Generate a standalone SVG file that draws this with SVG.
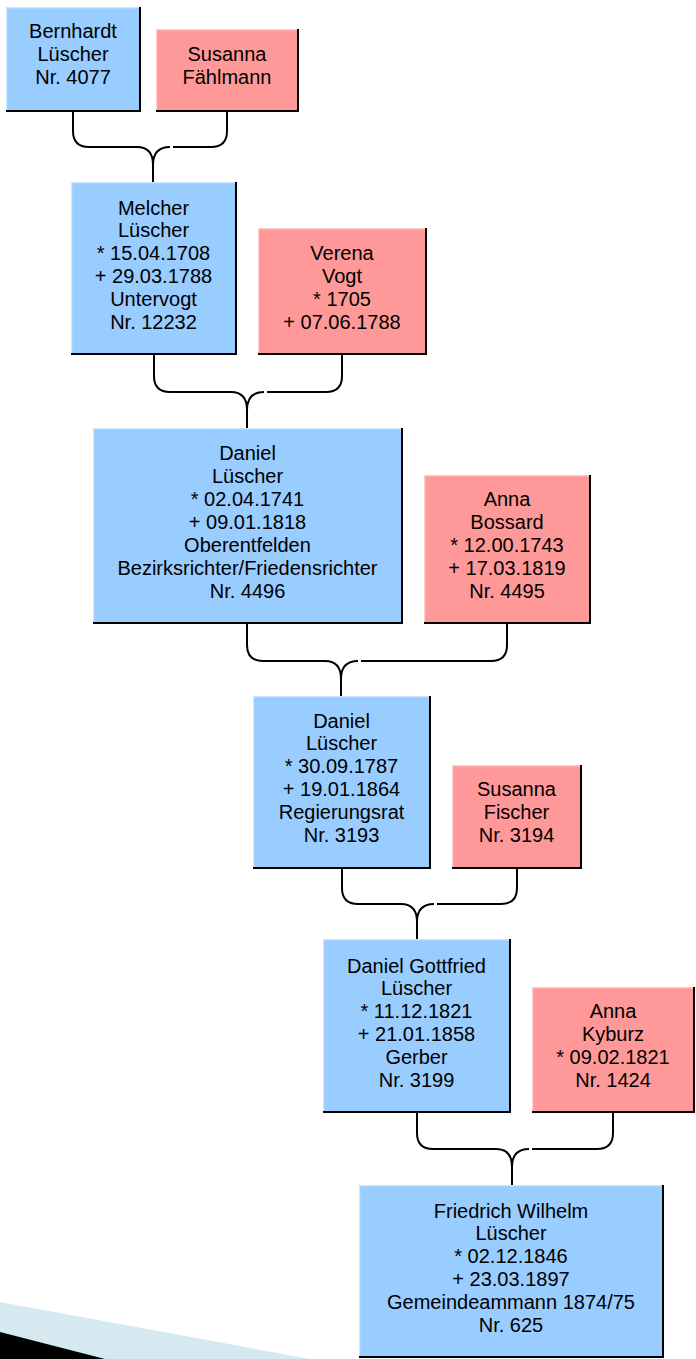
<svg xmlns="http://www.w3.org/2000/svg" width="696" height="1359" viewBox="0 0 696 1359">
<style>
.m{fill:#99ccff}
.f{fill:#ff9999}
.hm{fill:none;stroke:#cfe6ff;stroke-width:1.2}
.hf{fill:none;stroke:#ffcccc;stroke-width:1.2}
.sh{fill:none;stroke:#000;stroke-width:2}
text{font-family:"Liberation Sans",Arial,sans-serif;font-size:20px;fill:#000;text-anchor:middle}
.c{fill:none;stroke:#000;stroke-width:2}
</style>
<rect width="696" height="1359" fill="#fff"/>
<polygon points="0,1302 310,1359 0,1359" fill="#d6e9f1"/>
<polygon points="0,1332 105,1359 0,1359" fill="#000"/>
<g id="connectors">
<path class="c" d="M73,111 V131 Q73,147 89,147 H137 Q153,147 153,165 V182"/>
<path class="c" d="M227,111 V131 Q227,147 211,147 H173 M170,147 Q153,147 153,165"/>
<path class="c" d="M154,354 V376 Q154,392 170,392 H231 Q247,392 247,410 V428"/>
<path class="c" d="M342,354 V376 Q342,392 326,392 H267 M264,392 Q247,392 247,410"/>
<path class="c" d="M247,623 V645 Q247,661 263,661 H325 Q341,661 341,679 V696"/>
<path class="c" d="M507,623 V645 Q507,661 491,661 H361 M358,661 Q341,661 341,679"/>
<path class="c" d="M342,868 V888 Q342,904 358,904 H401 Q417,904 417,922 V939"/>
<path class="c" d="M517,868 V888 Q517,904 501,904 H437 M434,904 Q417,904 417,922"/>
<path class="c" d="M417,1112 V1133 Q417,1149 433,1149 H496 Q512,1149 512,1167 V1185"/>
<path class="c" d="M613,1112 V1133 Q613,1149 597,1149 H532 M529,1149 Q512,1149 512,1167"/>
</g>
<g id="n1">
<rect class="m" x="6" y="7" width="134" height="104"/>
<path class="hm" d="M6.6,111 V7.6 H140"/>
<path class="sh" d="M140,7 V111 H6"/>
<text x="73" y="38.2">Bernhardt<tspan x="73" dy="22.9">Lüscher</tspan><tspan x="73" dy="22.9">Nr. 4077</tspan></text>
</g>
<g id="n2">
<rect class="f" x="156" y="29" width="142" height="82"/>
<path class="hf" d="M156.6,111 V29.6 H298"/>
<path class="sh" d="M298,29 V111 H156"/>
<text x="227" y="61.1">Susanna<tspan x="227" dy="22.9">Fählmann</tspan></text>
</g>
<g id="n3">
<rect class="m" x="71" y="182" width="165" height="172"/>
<path class="hm" d="M71.6,354 V182.6 H236"/>
<path class="sh" d="M236,182 V354 H71"/>
<text x="153.5" y="214.5">Melcher<tspan x="153.5" dy="22.9">Lüscher</tspan><tspan x="153.5" dy="22.9">* 15.04.1708</tspan><tspan x="153.5" dy="22.9">+ 29.03.1788</tspan><tspan x="153.5" dy="22.9">Untervogt</tspan><tspan x="153.5" dy="22.9">Nr. 12232</tspan></text>
</g>
<g id="n4">
<rect class="f" x="258" y="228" width="168" height="126"/>
<path class="hf" d="M258.6,354 V228.6 H426"/>
<path class="sh" d="M426,228 V354 H258"/>
<text x="342" y="260.3">Verena<tspan x="342" dy="22.9">Vogt</tspan><tspan x="342" dy="22.9">* 1705</tspan><tspan x="342" dy="22.9">+ 07.06.1788</tspan></text>
</g>
<g id="n5">
<rect class="m" x="93" y="428" width="309" height="195"/>
<path class="hm" d="M93.6,623 V428.6 H402"/>
<path class="sh" d="M402,428 V623 H93"/>
<text x="247.5" y="460.4">Daniel<tspan x="247.5" dy="22.9">Lüscher</tspan><tspan x="247.5" dy="22.9">* 02.04.1741</tspan><tspan x="247.5" dy="22.9">+ 09.01.1818</tspan><tspan x="247.5" dy="22.9">Oberentfelden</tspan><tspan x="247.5" dy="22.9">Bezirksrichter/Friedensrichter</tspan><tspan x="247.5" dy="22.9">Nr. 4496</tspan></text>
</g>
<g id="n6">
<rect class="f" x="424" y="475" width="166" height="148"/>
<path class="hf" d="M424.6,623 V475.6 H590"/>
<path class="sh" d="M590,475 V623 H424"/>
<text x="507" y="506.4">Anna<tspan x="507" dy="22.9">Bossard</tspan><tspan x="507" dy="22.9">* 12.00.1743</tspan><tspan x="507" dy="22.9">+ 17.03.1819</tspan><tspan x="507" dy="22.9">Nr. 4495</tspan></text>
</g>
<g id="n7">
<rect class="m" x="253" y="696" width="177" height="172"/>
<path class="hm" d="M253.6,868 V696.6 H430"/>
<path class="sh" d="M430,696 V868 H253"/>
<text x="341.5" y="727.5">Daniel<tspan x="341.5" dy="22.9">Lüscher</tspan><tspan x="341.5" dy="22.9">* 30.09.1787</tspan><tspan x="341.5" dy="22.9">+ 19.01.1864</tspan><tspan x="341.5" dy="22.9">Regierungsrat</tspan><tspan x="341.5" dy="22.9">Nr. 3193</tspan></text>
</g>
<g id="n8">
<rect class="f" x="452" y="765" width="129" height="103"/>
<path class="hf" d="M452.6,868 V765.6 H581"/>
<path class="sh" d="M581,765 V868 H452"/>
<text x="516.5" y="796.2">Susanna<tspan x="516.5" dy="22.9">Fischer</tspan><tspan x="516.5" dy="22.9">Nr. 3194</tspan></text>
</g>
<g id="n9">
<rect class="m" x="323" y="939" width="187" height="173"/>
<path class="hm" d="M323.6,1112 V939.6 H510"/>
<path class="sh" d="M510,939 V1112 H323"/>
<text x="416.5" y="972.5">Daniel Gottfried<tspan x="416.5" dy="22.9">Lüscher</tspan><tspan x="416.5" dy="22.9">* 11.12.1821</tspan><tspan x="416.5" dy="22.9">+ 21.01.1858</tspan><tspan x="416.5" dy="22.9">Gerber</tspan><tspan x="416.5" dy="22.9">Nr. 3199</tspan></text>
</g>
<g id="n10">
<rect class="f" x="532" y="987" width="162" height="125"/>
<path class="hf" d="M532.6,1112 V987.6 H694"/>
<path class="sh" d="M694,987 V1112 H532"/>
<text x="613" y="1018.3">Anna<tspan x="613" dy="22.9">Kyburz</tspan><tspan x="613" dy="22.9">* 09.02.1821</tspan><tspan x="613" dy="22.9">Nr. 1424</tspan></text>
</g>
<g id="n11">
<rect class="m" x="359" y="1185" width="304" height="172"/>
<path class="hm" d="M359.6,1357 V1185.6 H663"/>
<path class="sh" d="M663,1185 V1357 H359"/>
<text x="511" y="1217.5">Friedrich Wilhelm<tspan x="511" dy="22.9">Lüscher</tspan><tspan x="511" dy="22.9">* 02.12.1846</tspan><tspan x="511" dy="22.9">+ 23.03.1897</tspan><tspan x="511" dy="22.9">Gemeindeammann 1874/75</tspan><tspan x="511" dy="22.9">Nr. 625</tspan></text>
</g>
</svg>
